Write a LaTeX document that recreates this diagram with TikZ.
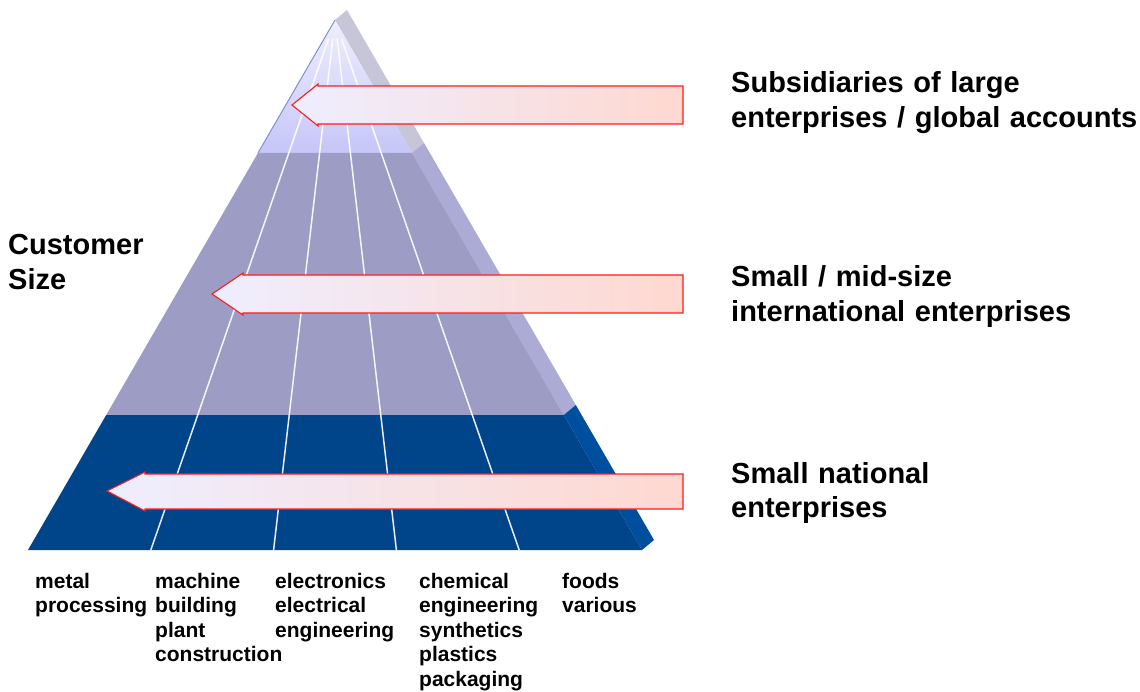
\documentclass[tikz,border=0pt]{standalone}
\usepackage{fontspec}
\setmainfont{Liberation Sans}
\usetikzlibrary{calc}
\definecolor{topA}{HTML}{EEEEFF}
\definecolor{topB}{HTML}{C6C6F8}
\definecolor{sideTop}{HTML}{C6C6D8}
\definecolor{midF}{HTML}{9C9CC4}
\definecolor{sideMid}{HTML}{ABABD5}
\definecolor{botF}{HTML}{00458A}
\definecolor{sideBot}{HTML}{004E9E}
\definecolor{arrL}{HTML}{EEEEFF}
\definecolor{arrR}{HTML}{FFD8D0}
\definecolor{arrred}{HTML}{FF1A1A}
\definecolor{edgeblue}{HTML}{8090D0}
\begin{document}
\begin{tikzpicture}[x=1pt,y=-1pt,
  lbl/.style={inner sep=0pt, anchor=base west, font=\bfseries\fontsize{29}{34.5}\selectfont, align=left, text width=420pt},
  cat/.style={inner sep=0pt, anchor=base west, font=\bfseries\fontsize{21}{24.5}\selectfont, align=left, text width=150pt},
  sepline/.style={white, line width=1.5pt, opacity=0.9},
  arr/.style={draw=arrred, line width=1.1pt, left color=arrL, right color=arrR, line join=miter}]
\useasboundingbox (0,0) rectangle (1140,692);
% pyramid geometry
\coordinate (A) at (335,20);
\coordinate (BL) at (28,550);
\coordinate (BR) at (642,550);
\coordinate (L1) at ($(A)!0.25094!(BL)$);
\coordinate (R1) at ($(A)!0.25094!(BR)$);
\coordinate (L2) at ($(A)!0.74528!(BL)$);
\coordinate (R2) at ($(A)!0.74528!(BR)$);
% side strip
\fill[sideTop] (A) -- (R1) -- ($(R1)+(12,-10)$) -- ($(A)+(12,-10)$) -- cycle;
\fill[sideMid] (R1) -- (R2) -- ($(R2)+(12,-10)$) -- ($(R1)+(12,-10)$) -- cycle;
\fill[sideBot] (R2) -- (BR) -- ($(BR)+(12,-10)$) -- ($(R2)+(12,-10)$) -- cycle;
% front bands
\shade[top color=topA, bottom color=topB] (A) -- (L1) -- (R1) -- cycle;
\fill[midF] (L1) -- (L2) -- (R2) -- (R1) -- cycle;
\fill[botF] (L2) -- (BL) -- (BR) -- (R2) -- cycle;
\draw[edgeblue, line width=1pt] (A) -- (L1);
% column separators
\foreach \k in {1,2,3,4} {
  \coordinate (B\k) at ($(BL)!\k/5!(BR)$);
  \draw[sepline] ($(A)!0.035!(B\k)$) -- (B\k);
}
% arrows
\path[arr] (683,86) -- (318,86) -- (318,84) -- (292,105) -- (318,126) -- (318,124) -- (683,124) -- cycle;
\path[arr] (683,275) -- (243,275) -- (243,273) -- (212,294) -- (243,315) -- (243,313) -- (683,313) -- cycle;
\path[arr] (683,474) -- (145,474) -- (145,472) -- (107,491) -- (145,511) -- (145,509) -- (683,509) -- cycle;
% labels
\node[lbl] (t1) at (731,93) {Subsidiaries of large\\enterprises / global accounts};
\node[lbl] (t2) at (731,287) {Small / mid-size\\international enterprises};
\node[lbl] (t3) at (731,483) {Small national\\enterprises};
\node[lbl] (cs) at (8,255) {Customer\\Size};
\node[cat] (c1) at (35,588) {metal\\processing};
\node[cat] (c2) at (155,588) {machine\\building\\plant\\construction};
\node[cat] (c3) at (275,588) {electronics\\electrical\\engineering};
\node[cat] (c4) at (419,588) {chemical\\engineering\\synthetics\\plastics\\packaging};
\node[cat] (c5) at (562,588) {foods\\various};
\end{tikzpicture}
\end{document}
